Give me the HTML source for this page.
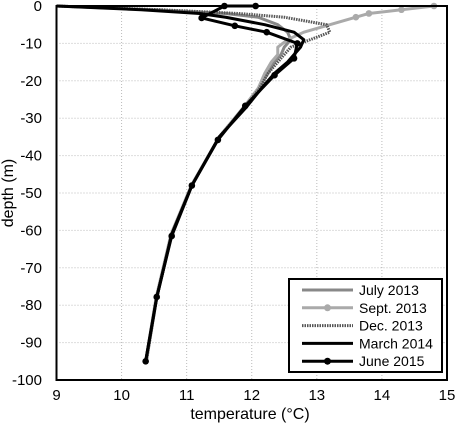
<!DOCTYPE html>
<html><head><meta charset="utf-8"><style>
body{margin:0;background:#fff}
svg{font-family:"Liberation Sans",Arial,sans-serif}
</style></head><body>
<svg id="chart" width="457" height="426" viewBox="0 0 457 426" xmlns="http://www.w3.org/2000/svg">
<g id="grid"></g>
<g id="series"></g>
<rect x="56.5" y="6" width="390.5" height="374" fill="none" stroke="#000" stroke-width="2"/>
<g id="ticks"></g>
<text x="250" y="419" text-anchor="middle" font-size="16">temperature (°C)</text>
<text transform="translate(13,193) rotate(-90)" text-anchor="middle" font-size="16">depth (m)</text>
<g id="legend"></g>
</svg>
<script>
const xTicks=[9,10,11,12,13,14,15];
const yTicks=[0,-10,-20,-30,-40,-50,-60,-70,-80,-90,-100];
const seriesNames=["July 2013","Sept. 2013","Dec. 2013","March 2014","June 2015"];
const depths=[0,-1,-2,-3,-5,-7,-9,-11,-13,-15,-18,-22,-27,-35,-48,-61,-78,-95];
const july2013=[9,10.5,11.6,12.1,12.4,12.55,12.6,12.5,12.45,12.35,12.25,12.1,11.88,11.5,11.08,10.77,10.54,10.38];
const sept2013=[14.8,14.3,13.8,13.6,13.2,12.8,12.55,12.4,12.4,12.3,12.2,12.1,11.88,11.5,11.07,10.76,10.53,10.37];
const dec2013=[9,10.6,11.8,12.5,13.15,13.2,12.9,12.6,12.5,12.4,12.25,12.12,11.9,11.5,11.08,10.77,10.54,10.38];
const march2014=[9,10.3,11.2,11.6,12.2,12.65,12.8,12.75,12.65,12.55,12.35,12.15,11.92,11.5,11.08,10.77,10.54,10.37];
const juneDepths=[0,0,-3.2,-5.3,-7,-10,-14,-18.5,-26.7,-35.8,-48,-61.5,-77.8,-95];
const june2015=[12.06,11.58,11.23,11.74,12.23,12.7,12.65,12.35,11.9,11.48,11.08,10.77,10.54,10.37];
const sx=v=>56.5+(v-9)*65.08;
const sy=d=>6-d*3.74;
const NS="http://www.w3.org/2000/svg";
function mk(tag,attrs,parent){const e=document.createElementNS(NS,tag);for(const k in attrs)e.setAttribute(k,attrs[k]);parent.appendChild(e);return e;}
const grid=document.getElementById('grid'),ticks=document.getElementById('ticks');
xTicks.forEach(t=>{
 const g=mk('line',{x1:sx(t),x2:sx(t),y1:6,y2:380,stroke:'#bbb','stroke-dasharray':'1,2'},grid);
 
 
 const l=mk('text',{x:sx(t),y:400,'text-anchor':'middle','font-size':15},ticks);l.textContent=t;
 
 
});
yTicks.forEach(t=>{
 const g=mk('line',{x1:56.5,x2:447,y1:sy(t),y2:sy(t),stroke:'#bbb','stroke-dasharray':'1,2'},grid);
 
 
 const l=mk('text',{x:42,y:sy(t)+5,'text-anchor':'end','font-size':15},ticks);l.textContent=t;
 
 
});
const styles=[
 {c:'#888',w:3,dash:null,m:false},
 {c:'#aaa',w:3,dash:null,m:true},
 {c:'#555',w:3,dash:'1.5,1',m:false},
 {c:'#000',w:3,dash:null,m:false},
 {c:'#000',w:3,dash:null,m:true}];
const data=[[depths,july2013],[depths,sept2013],[depths,dec2013],[depths,march2014],[juneDepths,june2015]];
const sg=document.getElementById('series');
data.forEach(([ds,vs],i)=>{
 const s=styles[i];
 const pts=vs.map((v,j)=>sx(v)+','+sy(ds[j])).join(' ');
 const p=mk('polyline',{points:pts,fill:'none',stroke:s.c,'stroke-width':s.w,'stroke-linejoin':'round'},sg);
 if(s.dash)p.setAttribute('stroke-dasharray',s.dash);
 
 
 if(s.m){vs.forEach((v,j)=>{
  if(i===1&&j>3)return;
  const c=mk('circle',{cx:sx(v),cy:sy(ds[j]),r:3.3,fill:s.c},sg);
  
  
 });}
});
const lg=document.getElementById('legend');
const box=mk('rect',{x:289,y:279,width:153,height:93,fill:'#fff',stroke:'#000','stroke-width':2},lg);


seriesNames.forEach((n,i)=>{
 const s=styles[i],y=290+i*17.8;
 const l=mk('line',{x1:302,x2:353,y1:y,y2:y,stroke:s.c,'stroke-width':s.w},lg);
 if(s.dash)l.setAttribute('stroke-dasharray',s.dash);
 
 
 if(s.m){const c=mk('circle',{cx:327.5,cy:y,r:3.5,fill:s.c},lg);
  
  }
 const t=mk('text',{x:359,y:y+5,'font-size':14},lg);t.textContent=n;
 
 
});
</script>
</body></html>
